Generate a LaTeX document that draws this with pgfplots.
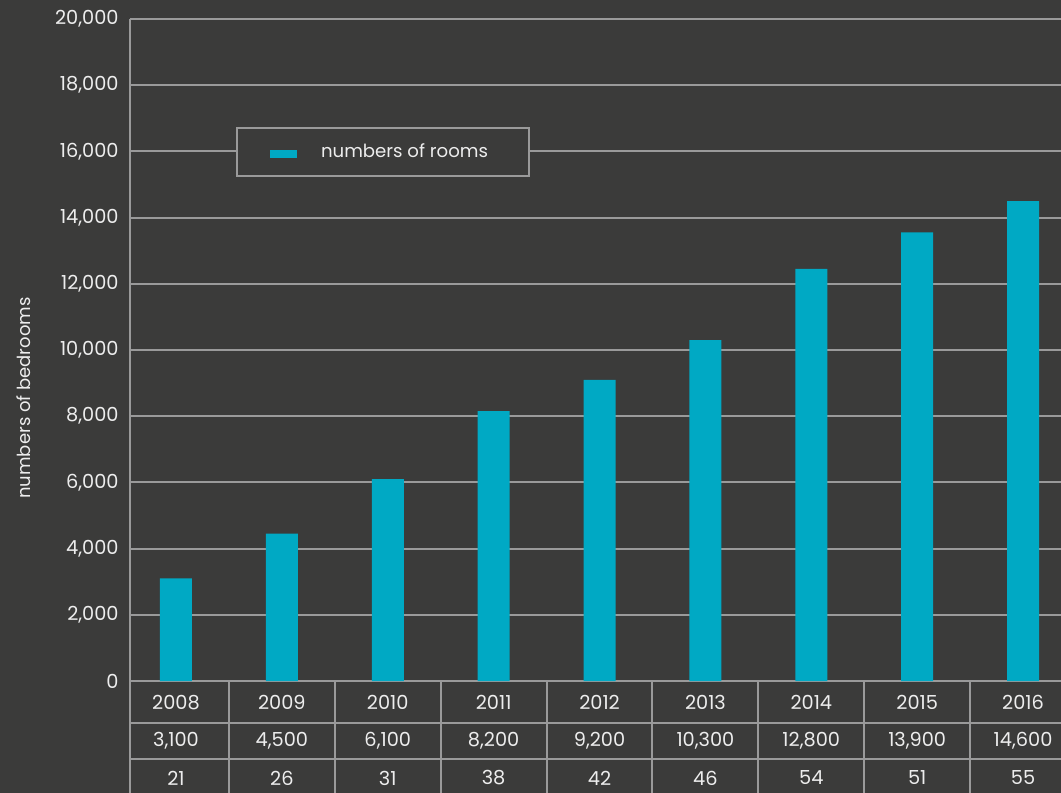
\documentclass[border=0pt]{standalone}
\usepackage{pgfplots}
\pgfplotsset{compat=1.18}
\usepackage{fontspec}
\setmainfont{Poppins}
\definecolor{bg}{HTML}{3B3B3A}
\definecolor{barc}{HTML}{00A9C4}
\definecolor{grd}{HTML}{9A9A9A}
\definecolor{txt}{HTML}{EDEDED}
\newcommand\fs{\fontsize{14.5}{17}\selectfont}
\begin{document}
\begin{tikzpicture}
\fill[bg] (0pt,0pt) rectangle (795.75pt,594.75pt);
\begin{scope}
\clip (0pt,0pt) rectangle (795.75pt,594.75pt);
\begin{axis}[
  at={(97.5pt,84pt)}, anchor=south west,
  scale only axis, width=709.5pt, height=496.5pt,
  xmin=-0.4344, xmax=8.5, ymin=0, ymax=20000,
  clip=false,
  axis lines=left,
  axis line style={draw=grd, line width=1.5pt, -},
  ymajorgrids,
  grid style={draw=grd, line width=1.5pt},
  major tick length=0pt,
  ytick={0,2000,...,20000},
  scaled y ticks=false,
  xtick={0,...,8},
  xticklabels={2008,2009,2010,2011,2012,2013,2014,2015,2016},
  xticklabel style={anchor=center, yshift=-16.3pt},
  yticklabel style={xshift=-5pt},
  tick label style={text=txt, font=\fs},
  /pgf/number format/1000 sep={,},
  /pgf/number format/assume math mode=true,
  ylabel={numbers of bedrooms},
  ylabel style={at={(axis description cs:-0.1121,0.4275)}, anchor=center, text=txt,
    font=\fontsize{13.5}{16}\selectfont},
  legend style={at={(0.1121,0.8369)}, anchor=north west, draw=grd, line width=1.5pt,
    fill=bg, text=txt, font=\fontsize{13.6}{16}\selectfont, inner sep=0pt, cells={anchor=west}},
  legend image code/.code={
    \path[fill=none, draw=none] (0pt,-18pt) rectangle (61pt,18pt);
    \fill[barc] (24.75pt,-4.6pt) rectangle (45pt,1.8pt);},
]
\addplot[ybar, bar width=24pt, fill=barc, draw=none] coordinates {
  (0,3100) (1,4450) (2,6100) (3,8150) (4,9100)
  (5,10300) (6,12450) (7,13550) (8,14500)};
\addlegendentry{numbers of rooms\hspace*{2.1em}}
\draw[grd, line width=1.5pt] (axis cs:-0.4344,0) -- (axis cs:-0.4344,-4000);
\pgfplotsinvokeforeach{0.5,1.5,2.5,3.5,4.5,5.5,6.5,7.5,8.5}{
  \draw[grd, line width=1.5pt] (axis cs:#1,0) -- (axis cs:#1,-4000);}
\draw[grd, line width=1.5pt] (axis cs:-0.4344,-1260) -- (axis cs:8.5,-1260);
\draw[grd, line width=1.5pt] (axis cs:-0.4344,-2356) -- (axis cs:8.5,-2356);
\begin{scope}[every node/.style={text=txt, font=\fs, anchor=center}]
\node at (axis cs:0,-1804) {3,100};
\node at (axis cs:1,-1804) {4,500};
\node at (axis cs:2,-1804) {6,100};
\node at (axis cs:3,-1804) {8,200};
\node at (axis cs:4,-1804) {9,200};
\node at (axis cs:5,-1804) {10,300};
\node at (axis cs:6,-1804) {12,800};
\node at (axis cs:7,-1804) {13,900};
\node at (axis cs:8,-1804) {14,600};
\node at (axis cs:0,-2930) {21};
\node at (axis cs:1,-2930) {26};
\node at (axis cs:2,-2930) {31};
\node at (axis cs:3,-2930) {38};
\node at (axis cs:4,-2930) {42};
\node at (axis cs:5,-2930) {46};
\node at (axis cs:6,-2930) {54};
\node at (axis cs:7,-2930) {51};
\node at (axis cs:8,-2930) {55};
\end{scope}
\end{axis}
\end{scope}
\pgfresetboundingbox
\path[use as bounding box] (0pt,0pt) rectangle (795.75pt,594.75pt);
\end{tikzpicture}
\end{document}
